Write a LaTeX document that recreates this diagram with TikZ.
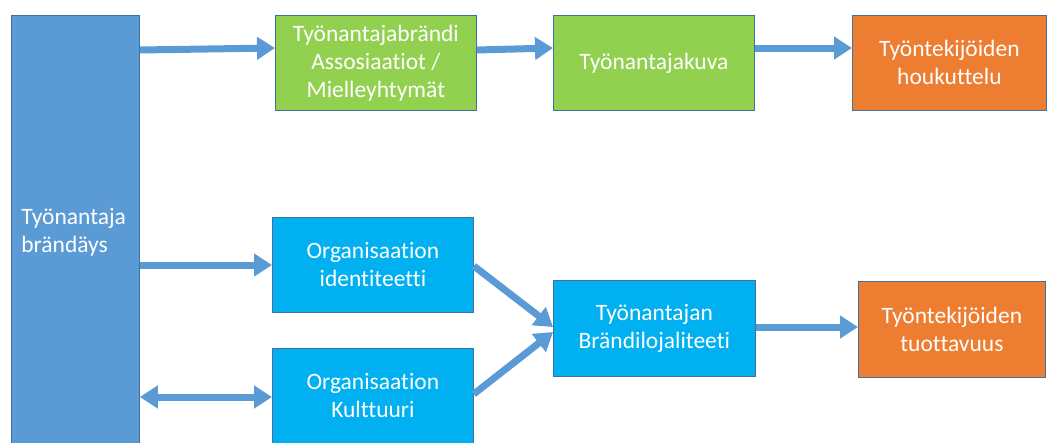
\documentclass[tikz,border=0pt]{standalone}
\usepackage{fontspec}
\setmainfont{Carlito}[Ligatures=NoCommon]
\usetikzlibrary{arrows.meta}
\definecolor{steel}{HTML}{5B9BD5}
\definecolor{edge}{HTML}{41719C}
\definecolor{leaf}{HTML}{92D050}
\definecolor{ember}{HTML}{ED7D31}
\definecolor{sky}{HTML}{00B0F0}
\tikzset{
  box/.style={draw=edge, line width=0.8pt, text=white, align=center,
    font=\fontsize{23.5}{28}\selectfont, inner sep=0pt, anchor=north west},
  link/.style={draw=steel, line width=7pt,
    -{Triangle[length=18pt,width=22pt]}},
  twoway/.style={draw=steel, line width=7pt,
    {Triangle[length=18pt,width=22pt]}-{Triangle[length=18pt,width=22pt]}}
}
\begin{document}
\begin{tikzpicture}[x=1pt,y=-1pt]
\useasboundingbox (0,0) rectangle (1048,442);
\begin{scope}
\clip (0,0) rectangle (1048,442);
% left pillar
\node[box, fill=steel, minimum width=128pt, minimum height=434pt, text width=108pt, align=left] (brand) at (11,15) {Työnantaja\\brändäys};
% top row
\node[box, fill=leaf, minimum width=201pt, minimum height=95pt] (assoc) at (275,15) {Työnantajabrändi\\Assosiaatiot /\\Mielleyhtymät};
\node[box, fill=leaf, minimum width=201pt, minimum height=95pt] (image) at (553,15) {Työnantajakuva};
\node[box, fill=ember, minimum width=194pt, minimum height=95pt] (attract) at (852,15) {Työntekijöiden\\houkuttelu};
% lower rows
\node[box, fill=sky, minimum width=201pt, minimum height=95pt] (ident) at (272,217) {Organisaation\\identiteetti};
\node[box, fill=sky, minimum width=201pt, minimum height=95pt] (culture) at (272,348) {Organisaation\\Kulttuuri};
\node[box, fill=sky, minimum width=202pt, minimum height=96pt] (loyal) at (553,280) {Työnantajan\\Brändilojaliteeti};
\node[box, fill=ember, minimum width=187pt, minimum height=96pt] (prod) at (858,281) {Työntekijöiden\\tuottavuus};
\end{scope}
% connectors
\draw[link] (brand.east |- 0,50) -- (assoc.west |- 0,48);
\draw[link] (assoc.east |- 0,50) -- (image.west |- 0,48);
\draw[link] (image.east |- 0,48) -- (attract.west |- 0,48);
\draw[link] (brand.east |- 0,265) -- (ident.west |- 0,265);
\draw[twoway] (brand.east |- 0,397) -- (culture.west |- 0,397);
\draw[link] (ident.east |- 0,266) -- (loyal.west |- 0,327);
\draw[link] (culture.east |- 0,394) -- (loyal.west |- 0,332);
\draw[link] (loyal.east |- 0,327) -- (prod.west |- 0,327);
\end{tikzpicture}
\end{document}
